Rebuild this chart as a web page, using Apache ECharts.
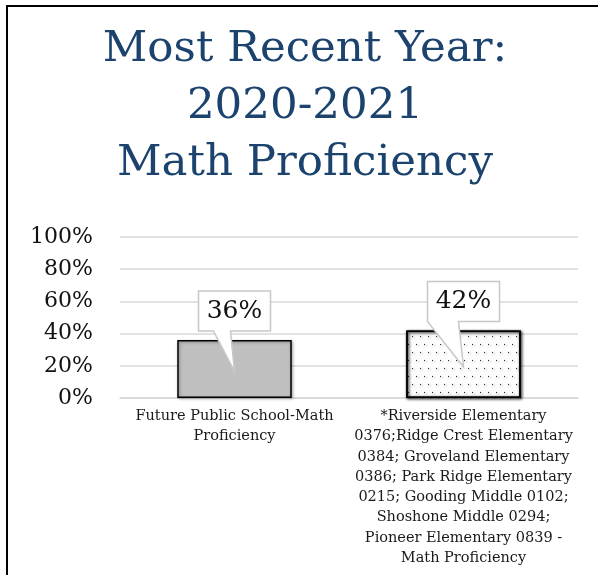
<!DOCTYPE html>
<html>
<head>
<meta charset="utf-8">
<script src="https://cdn.jsdelivr.net/npm/echarts@6/dist/echarts.min.js"></script>
<style>
html,body{margin:0;padding:0;background:#fff;}
#chart{width:598px;height:575px;}
</style>
</head>
<body>
<div id="chart"></div>
<script>
const titleText = "Most Recent Year:\n2020-2021\nMath Proficiency";
const categories = [
  "Future Public School-Math\nProficiency",
  "*Riverside Elementary\n0376;Ridge Crest Elementary\n0384; Groveland Elementary\n0386; Park Ridge Elementary\n0215; Gooding Middle 0102;\nShoshone Middle 0294;\nPioneer Elementary 0839 -\nMath Proficiency"
];
const values = [36, 42];
const yTicks = [0, 20, 40, 60, 80, 100];

const FONT = "DejaVu Serif";
const chart = echarts.init(document.getElementById('chart'), null, {renderer: 'canvas'});

const barColors = [
  {color: '#BFBFBF'},
  {color: '#FFFFFF', decal: {symbol: 'rect', symbolSize: 1, color: '#222', dashArrayX: [[1, 7], [0, 4, 1, 3]], dashArrayY: [1, 7], rotation: 0}}
];
const tailOffsets = [[-21, -4], [-36, -5]];

chart.setOption({
  animation: false,
  backgroundColor: '#fff',
  title: {
    text: titleText,
    left: 305,
    top: 21,
    padding: 0,
    textStyle: {fontFamily: FONT, fontSize: 43.5, lineHeight: 57, fontWeight: 'normal', color: '#1B436E', align: 'center'},
    textAlign: 'center'
  },
  graphic: [{
    type: 'rect',
    shape: {x: 7, y: 6, width: 700, height: 700},
    style: {fill: 'none', stroke: '#000', lineWidth: 2},
    silent: true, z: 100
  }],
  grid: {left: 120, right: 20, top: 237, bottom: 177},
  xAxis: {
    type: 'category',
    data: categories,
    axisLine: {show: true, lineStyle: {color: '#D9D9D9', width: 1.5}},
    axisTick: {show: false},
    axisLabel: {fontFamily: FONT, fontSize: 14.5, lineHeight: 20.3, color: '#1a1a1a', margin: 8, interval: 0, align: 'center'}
  },
  yAxis: {
    type: 'value',
    min: yTicks[0], max: yTicks[yTicks.length - 1], interval: 20,
    axisLine: {show: false},
    axisTick: {show: false},
    splitLine: {lineStyle: {color: '#D9D9D9', width: 1.5}},
    axisLabel: {fontFamily: FONT, fontSize: 22, color: '#111', margin: 27, formatter: v => v + '%'}
  },
  series: [
    {
      type: 'bar',
      barWidth: '50%',
      data: values.map((v, i) => ({
        value: v,
        itemStyle: Object.assign({borderColor: '#000', borderWidth: 1.5, shadowBlur: 3, shadowColor: 'rgba(0,0,0,0.35)', shadowOffsetX: 1, shadowOffsetY: 1}, barColors[i])
      }))
    },
    {
      type: 'custom',
      data: values.map((v, i) => [i, v]),
      z: 10,
      renderItem: function (params, api) {
        const i = api.value(0), v = api.value(1);
        const top = api.coord([i, v]);
        const tip = api.coord([i, v * 0.46]);
        const cx = top[0];
        const W = 72, H = 40;
        const B = top[1] - 9, T = B - H, L = cx - W / 2, R = cx + W / 2;
        const off = tailOffsets[i];
        const pts = [[L, T], [R, T], [R, B], [cx + off[1], B], [tip[0], tip[1]], [cx + off[0], B], [L, B]];
        return {
          type: 'group',
          children: [
            {type: 'polygon', shape: {points: pts}, style: {fill: '#fff', stroke: '#C8C8C8', lineWidth: 1.5}},
            {type: 'text', style: {text: v + '%', x: cx, y: (T + B) / 2, align: 'center', verticalAlign: 'middle', fontFamily: FONT, fontSize: 25, fill: '#111'}}
          ]
        };
      }
    }
  ]
});
</script>
</body>
</html>
